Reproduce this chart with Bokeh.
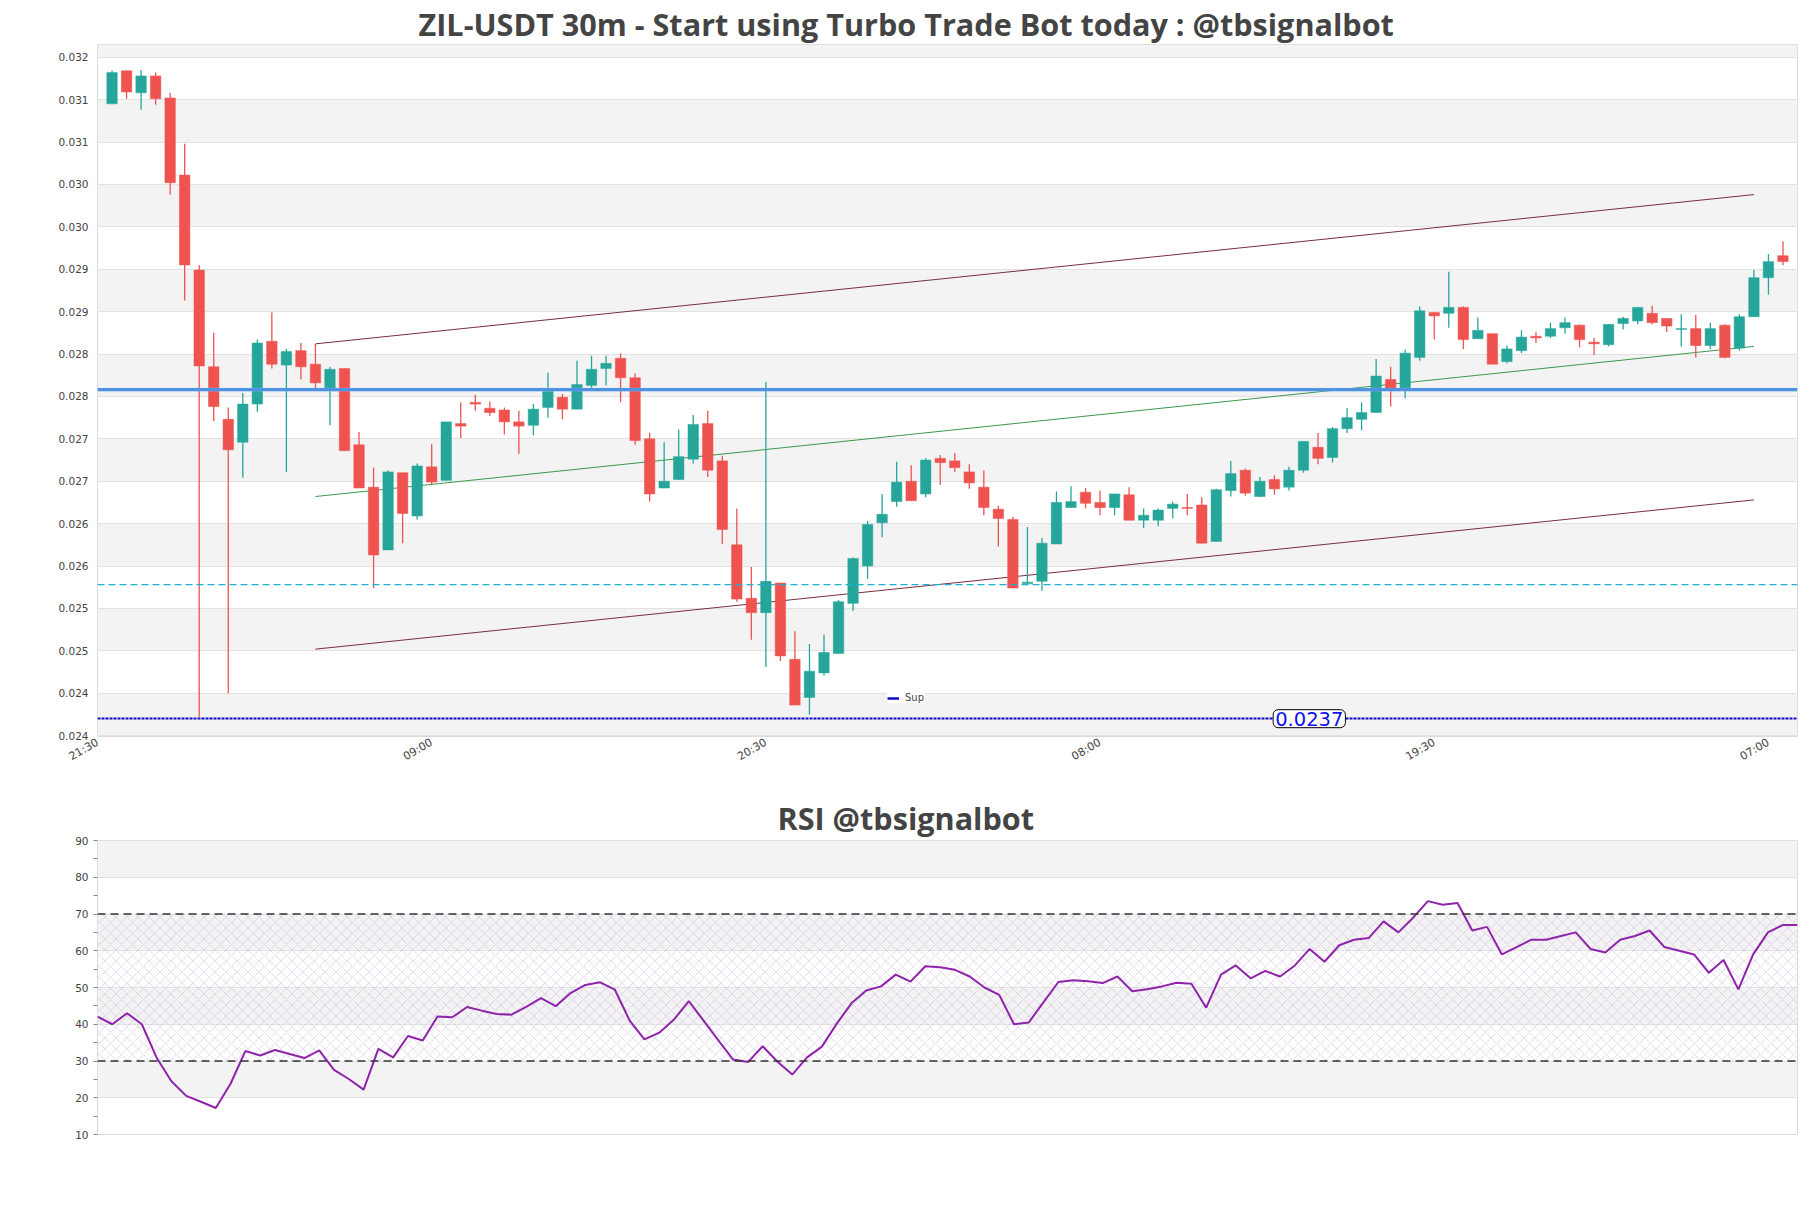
import math
from bokeh.plotting import figure
from bokeh.models import (Range1d, FixedTicker, BoxAnnotation, Span, Label, Legend,
                          LegendItem, ColumnDataSource)
from bokeh.layouts import column
from bokeh.embed import file_html
from bokeh.resources import INLINE

# ---------------- data ----------------
candle_idx = list(range(1, 117))
opens = [0.03095, 0.03134, 0.03108, 0.03128, 0.03102, 0.03011, 0.02899, 0.02785, 0.02723, 0.02696,
         0.02741, 0.02815, 0.02787, 0.02804, 0.02788, 0.02760, 0.02783, 0.02693, 0.02643, 0.02569,
         0.02660, 0.02609, 0.02667, 0.02651, 0.02718, 0.02743, 0.02736, 0.02734, 0.02720, 0.02716,
         0.02737, 0.02749, 0.02735, 0.02763, 0.02783, 0.02795, 0.02772, 0.02700, 0.02642, 0.02652,
         0.02676, 0.02718, 0.02674, 0.02575, 0.02512, 0.02495, 0.02530, 0.02440, 0.02395, 0.02424,
         0.02447, 0.02506, 0.02550, 0.02601, 0.02626, 0.02650, 0.02635, 0.02677, 0.02674, 0.02661,
         0.02643, 0.02617, 0.02605, 0.02529, 0.02532, 0.02576, 0.02619, 0.02637, 0.02625, 0.02619,
         0.02634, 0.02604, 0.02604, 0.02618, 0.02619, 0.02622, 0.02579, 0.02639, 0.02663, 0.02632,
         0.02652, 0.02643, 0.02663, 0.02690, 0.02678, 0.02712, 0.02723, 0.02731, 0.02770, 0.02759,
         0.02796, 0.02849, 0.02848, 0.02855, 0.02818, 0.02824, 0.02791, 0.02804, 0.02821, 0.02821,
         0.02831, 0.02834, 0.02814, 0.02811, 0.02836, 0.02839, 0.02848, 0.02842, 0.02829, 0.02830,
         0.02810, 0.02834, 0.02807, 0.02844, 0.02890, 0.02916]
highs = [0.03134, 0.03134, 0.03135, 0.03132, 0.03108, 0.03048, 0.02905, 0.02825, 0.02737, 0.02754,
         0.02817, 0.02849, 0.02806, 0.02813, 0.02812, 0.02785, 0.02783, 0.02708, 0.02666, 0.02663,
         0.02660, 0.02671, 0.02694, 0.02720, 0.02743, 0.02752, 0.02744, 0.02737, 0.02733, 0.02741,
         0.02778, 0.02753, 0.02792, 0.02798, 0.02798, 0.02801, 0.02777, 0.02707, 0.02696, 0.02711,
         0.02728, 0.02733, 0.02680, 0.02618, 0.02549, 0.02767, 0.02530, 0.02473, 0.02458, 0.02469,
         0.02510, 0.02560, 0.02603, 0.02635, 0.02673, 0.02669, 0.02677, 0.02681, 0.02683, 0.02670,
         0.02663, 0.02621, 0.02608, 0.02596, 0.02583, 0.02638, 0.02644, 0.02642, 0.02639, 0.02635,
         0.02643, 0.02618, 0.02618, 0.02626, 0.02635, 0.02631, 0.02641, 0.02674, 0.02665, 0.02655,
         0.02657, 0.02667, 0.02697, 0.02707, 0.02714, 0.02736, 0.02743, 0.02794, 0.02785, 0.02805,
         0.02856, 0.02849, 0.02897, 0.02856, 0.02843, 0.02824, 0.02810, 0.02828, 0.02826, 0.02837,
         0.02843, 0.02835, 0.02819, 0.02835, 0.02844, 0.02855, 0.02857, 0.02842, 0.02847, 0.02846,
         0.02837, 0.02835, 0.02847, 0.02899, 0.02918, 0.02933]
lows = [0.03095, 0.03101, 0.03088, 0.03094, 0.02988, 0.02863, 0.02372, 0.02721, 0.02400, 0.02654,
        0.02732, 0.02783, 0.02661, 0.02770, 0.02758, 0.02716, 0.02686, 0.02642, 0.02524, 0.02569,
        0.02577, 0.02605, 0.02646, 0.02651, 0.02701, 0.02733, 0.02727, 0.02705, 0.02682, 0.02704,
        0.02725, 0.02723, 0.02735, 0.02760, 0.02763, 0.02743, 0.02693, 0.02626, 0.02642, 0.02652,
        0.02671, 0.02655, 0.02576, 0.02508, 0.02463, 0.02431, 0.02438, 0.02386, 0.02375, 0.02421,
        0.02447, 0.02497, 0.02535, 0.02584, 0.02620, 0.02627, 0.02631, 0.02646, 0.02661, 0.02641,
        0.02610, 0.02573, 0.02524, 0.02529, 0.02521, 0.02576, 0.02619, 0.02618, 0.02610, 0.02610,
        0.02604, 0.02595, 0.02597, 0.02606, 0.02610, 0.02577, 0.02579, 0.02632, 0.02633, 0.02631,
        0.02634, 0.02639, 0.02660, 0.02670, 0.02672, 0.02707, 0.02710, 0.02731, 0.02738, 0.02748,
        0.02792, 0.02817, 0.02831, 0.02806, 0.02818, 0.02788, 0.02789, 0.02801, 0.02813, 0.02819,
        0.02824, 0.02808, 0.02799, 0.02809, 0.02829, 0.02835, 0.02835, 0.02826, 0.02809, 0.02796,
        0.02806, 0.02795, 0.02804, 0.02844, 0.02870, 0.02905]
closes = [0.03132, 0.03109, 0.03128, 0.03101, 0.03002, 0.02905, 0.02786, 0.02738, 0.02687, 0.02741,
          0.02813, 0.02788, 0.02803, 0.02785, 0.02766, 0.02782, 0.02686, 0.02642, 0.02563, 0.02661,
          0.02612, 0.02668, 0.02649, 0.02720, 0.02715, 0.02741, 0.02731, 0.02720, 0.02715, 0.02735,
          0.02756, 0.02735, 0.02764, 0.02782, 0.02789, 0.02772, 0.02698, 0.02635, 0.02650, 0.02679,
          0.02717, 0.02663, 0.02593, 0.02511, 0.02495, 0.02532, 0.02444, 0.02386, 0.02426, 0.02448,
          0.02508, 0.02559, 0.02599, 0.02611, 0.02649, 0.02627, 0.02675, 0.02672, 0.02666, 0.02648,
          0.02619, 0.02606, 0.02524, 0.02531, 0.02577, 0.02625, 0.02626, 0.02624, 0.02619, 0.02635,
          0.02604, 0.02610, 0.02616, 0.02623, 0.02618, 0.02577, 0.02640, 0.02659, 0.02636, 0.02650,
          0.02641, 0.02663, 0.02697, 0.02677, 0.02712, 0.02725, 0.02731, 0.02774, 0.02758, 0.02801,
          0.02851, 0.02845, 0.02855, 0.02817, 0.02828, 0.02788, 0.02806, 0.02820, 0.02819, 0.02830,
          0.02837, 0.02817, 0.02812, 0.02835, 0.02842, 0.02855, 0.02837, 0.02833, 0.02830, 0.02810,
          0.02830, 0.02796, 0.02844, 0.02890, 0.02909, 0.02909]

rsi_values = [42.1, 40.0, 43.0, 40.0, 30.9, 24.5, 20.5, 18.9, 17.2, 23.8,
              32.7, 31.5, 33.0, 31.9, 30.8, 32.9, 27.6, 25.1, 22.2, 33.3,
              31.0, 36.8, 35.6, 42.1, 41.9, 44.7, 43.7, 42.8, 42.6, 44.7,
              47.1, 44.9, 48.5, 50.7, 51.4, 49.4, 41.0, 35.9, 37.7, 41.3,
              46.3, 41.0, 35.6, 30.4, 29.7, 34.0, 29.8, 26.3, 31.0, 33.9,
              40.1, 45.7, 49.2, 50.3, 53.5, 51.6, 55.8, 55.5, 54.8, 53.0,
              50.0, 48.0, 40.0, 40.5, 46.0, 51.5, 52.0, 51.7, 51.2, 53.0,
              49.0, 49.5, 50.3, 51.3, 51.0, 44.5, 53.5, 56.0, 52.5, 54.5,
              53.0, 56.0, 60.5, 57.0, 61.5, 63.0, 63.5, 68.0, 65.0, 69.0,
              73.5, 72.5, 73.0, 65.5, 66.5, 59.0, 61.0, 63.0, 63.0, 64.0,
              65.0, 60.5, 59.5, 63.0, 64.0, 65.5, 61.0, 60.0, 59.0, 54.0,
              57.5, 49.5, 59.0, 65.0, 67.0, 67.0]

x_tick_pos = [0, 23, 46, 69, 92, 115]
x_tick_labels = ["21:30", "09:00", "20:30", "08:00", "19:30", "07:00"]
y_tick_values = [0.0235, 0.024, 0.0245, 0.025, 0.0255, 0.026, 0.0265, 0.027, 0.0275,
                 0.028, 0.0285, 0.029, 0.0295, 0.030, 0.0305, 0.031, 0.0315]
y_tick_labels = ["0.024", "0.024", "0.025", "0.025", "0.026", "0.026", "0.027", "0.027", "0.028",
                 "0.028", "0.029", "0.029", "0.030", "0.030", "0.031", "0.031", "0.032"]
rsi_ticks = [10, 20, 30, 40, 50, 60, 70, 80, 90]
rsi_minor = [15, 25, 35, 45, 55, 65, 75, 85]
rsi_levels = [30, 70]

channel_x = [15, 114]
channel_upper = [0.02812, 0.02988]
channel_mid = [0.02632, 0.02809]
channel_lower = [0.02452, 0.02628]

price_level = 0.02758
dashed_level = 0.02528
sup_level = 0.0237
sup_label = "0.0237"

# ---------------- styling ----------------
GREEN = "#26a69a"
RED = "#ef5350"
TXT = "#444444"
SUP_COLOR = "#0a0ac8"

colors = [GREEN if c >= o else RED for o, c in zip(opens, closes)]
src = ColumnDataSource(dict(
    x=candle_idx, high=highs, low=lows,
    top=[max(o, c) for o, c in zip(opens, closes)],
    bottom=[min(o, c) for o, c in zip(opens, closes)],
    color=colors))

W = 1803

p = figure(width=W, height=790, x_range=Range1d(0, 117), y_range=Range1d(0.02349, 0.03165),
           output_backend="svg", toolbar_location=None,
           min_border_left=97, min_border_right=6, min_border_top=43, min_border_bottom=54,
           background_fill_color="white", border_fill_color="white")
p.title.text = "ZIL-USDT 30m - Start using Turbo Trade Bot today : @tbsignalbot"
p.title.align = "left"
p.title.offset = 321
p.title.standoff = 0
p.title.text_font = "Open Sans"
p.title.text_font_style = "bold"
p.title.text_font_size = "30.6px"
p.title.text_color = TXT
p.outline_line_color = "#dadada"

p.xaxis.ticker = FixedTicker(ticks=x_tick_pos)
p.xaxis.major_label_overrides = {k: v for k, v in zip(x_tick_pos, x_tick_labels)}
p.xaxis.major_label_orientation = math.pi / 6
p.xaxis.axis_line_color = None
p.xaxis.major_tick_line_color = None
p.xaxis.minor_tick_line_color = None
p.xaxis.major_tick_out = 0
p.xaxis.major_label_standoff = 5
p.xaxis.major_label_text_font = "DejaVu Sans"
p.xaxis.major_label_text_font_size = "11px"
p.xaxis.major_label_text_color = TXT
p.xgrid.grid_line_color = None

p.yaxis.ticker = FixedTicker(ticks=y_tick_values)
p.yaxis.major_label_overrides = {k: v for k, v in zip(y_tick_values, y_tick_labels)}
p.yaxis.axis_line_color = None
p.yaxis.major_tick_line_color = None
p.yaxis.minor_tick_line_color = None
p.yaxis.major_tick_out = 0
p.yaxis.major_label_standoff = 9
p.yaxis.major_label_text_font = "DejaVu Sans"
p.yaxis.major_label_text_font_size = "10.5px"
p.yaxis.major_label_text_color = TXT
p.ygrid.grid_line_color = "#e2e2e2"
p.ygrid.band_fill_color = "#f3f3f3"
p.ygrid.band_fill_alpha = 1.0

# trend channel
p.line(channel_x, channel_upper, line_color="#7a2e3e", line_width=1)
p.line(channel_x, channel_lower, line_color="#7a2e3e", line_width=1)
p.line(channel_x, channel_mid, line_color="#3a9a4a", line_width=1)

# candles
p.segment(x0="x", y0="high", x1="x", y1="low", source=src, line_color="color", line_width=1.3)
p.vbar(x="x", width=0.72, top="top", bottom="bottom", source=src,
       fill_color="color", line_color="color", line_width=0.5)

# levels
p.add_layout(Span(location=dashed_level, dimension="width", line_color="#1fb0d2",
                  line_width=1.2, line_dash="7 4"))
p.hspan(y=[sup_level], line_color=SUP_COLOR, line_width=2.2, line_dash="3 1")
# legend swatch (single point: draws nothing on the plot itself)
sup_key = p.line(x=[candle_idx[-1]], y=[sup_level], line_color=SUP_COLOR, line_width=2.5)

p.add_layout(BoxAnnotation(top=price_level + 0.000019, bottom=price_level - 0.000019,
                           fill_color="#4a8fe3", fill_alpha=1.0,
                           line_color="#a6cbf4", line_width=0.8, level="overlay"))

p.add_layout(Label(x=83.4, y=sup_level, text=sup_label, text_align="center",
                   text_baseline="middle", text_color="#1010ee", text_font="DejaVu Sans",
                   text_font_size="19.5px", background_fill_color="white",
                   border_line_color="black", border_line_width=1, border_radius=5,
                   padding=2))

legend = Legend(items=[LegendItem(label="Sup", renderers=[sup_key])], location=(790, 33),
                background_fill_color="white", background_fill_alpha=1.0,
                border_line_color=None, label_text_font="DejaVu Sans",
                label_text_font_size="10px", label_text_color=TXT,
                glyph_width=12, glyph_height=10, padding=5, margin=0,
                label_standoff=6, label_height=10)
p.add_layout(legend)

# ---------------- RSI ----------------
r = figure(width=W, height=380, x_range=Range1d(1, 116), y_range=Range1d(10, 90),
           output_backend="svg", toolbar_location=None,
           min_border_left=97, min_border_right=6, min_border_top=50, min_border_bottom=36,
           background_fill_color="white", border_fill_color="white")
r.title.text = "RSI @tbsignalbot"
r.title.align = "left"
r.title.offset = 680
r.title.standoff = 3
r.title.text_font = "Open Sans"
r.title.text_font_style = "bold"
r.title.text_font_size = "30.6px"
r.title.text_color = TXT
r.outline_line_color = "#dadada"
r.xaxis.visible = False
r.xgrid.grid_line_color = None
r.yaxis.ticker = FixedTicker(ticks=rsi_ticks, minor_ticks=rsi_minor)
r.yaxis.axis_line_color = None
r.yaxis.major_tick_line_color = "#888888"
r.yaxis.minor_tick_line_color = "#888888"
r.yaxis.major_tick_out = 4
r.yaxis.major_tick_in = 0
r.yaxis.minor_tick_out = 4
r.yaxis.minor_tick_in = 0
r.yaxis.major_label_standoff = 5
r.yaxis.major_label_text_font = "DejaVu Sans"
r.yaxis.major_label_text_font_size = "10.5px"
r.yaxis.major_label_text_color = TXT
r.ygrid.grid_line_color = "#e2e2e2"
r.ygrid.band_fill_color = "#f3f3f3"
r.ygrid.band_fill_alpha = 1.0

r.add_layout(BoxAnnotation(bottom=rsi_levels[0], top=rsi_levels[1], fill_alpha=0,
                           line_color=None, hatch_pattern="diagonal_cross",
                           hatch_color="#bf9fd8", hatch_alpha=0.6, hatch_scale=11,
                           hatch_weight=0.6, level="underlay"))
for lv in rsi_levels:
    r.add_layout(Span(location=lv, dimension="width", line_color="#333333",
                      line_width=1.3, line_dash="8 5"))
r.line(candle_idx, rsi_values, line_color="#8e24aa", line_width=2)

layout = column(p, r)
open("out.html", "w").write(file_html(layout, INLINE))
